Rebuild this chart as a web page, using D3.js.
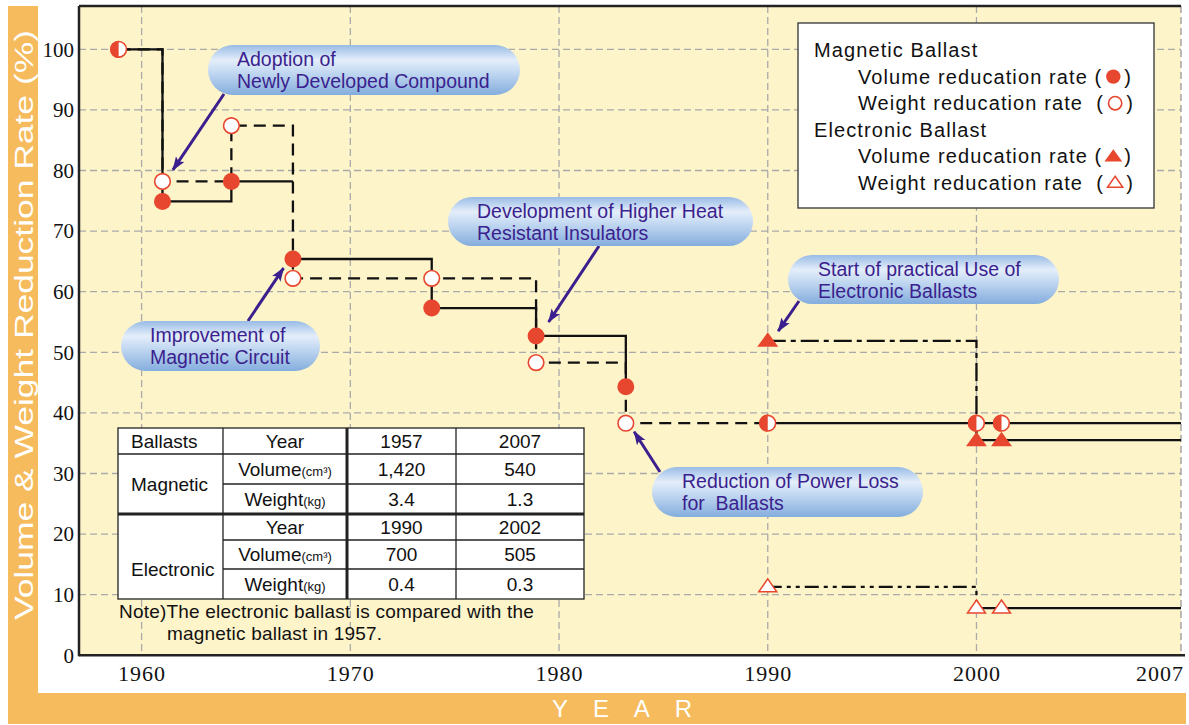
<!DOCTYPE html>
<html>
<head>
<meta charset="utf-8">
<script src="https://cdn.jsdelivr.net/npm/d3@7"></script>
<style>
body { margin: 0; background: #fff; }
svg { display: block; }
text { font-family: "Liberation Sans", Arial, Helvetica, sans-serif; }
</style>
</head>
<body>
<div id="chart"></div>
<script>
// values
var yTicks = [0, 10, 20, 30, 40, 50, 60, 70, 80, 90, 100];
var xTicks = [1960, 1970, 1980, 1990, 2000, 2007];

var magYears  = [1958.9, 1961, 1964.3, 1967.25, 1973.9, 1978.9, 1983.2];
var magVolume = [100, 74.9, 78.2, 65.4, 57.3, 52.7, 44.3];
var magWeight = [100, 78.2, 87.4, 62.2, 62.2, 48.3, 38.3];

// from 1990 the two magnetic rates are the same (half filled marks)
var bothYears  = [1990, 2000, 2001.2];
var bothValues = [38.3, 38.3, 38.3];

var eleYears  = [1990, 2000, 2001.2];
var eleVolume = [51.9, 35.5, 35.5];
var eleWeight = [11.3, 7.8, 7.8];

var tableRows = [
    ["Ballasts", "Year", "1957", "2007"],
    ["Magnetic", "Volume", "1,420", "540"],
    ["", "Weight", "3.4", "1.3"],
    ["", "Year", "1990", "2002"],
    ["Electronic", "Volume", "700", "505"],
    ["", "Weight", "0.4", "0.3"]
];
var units = {Volume: "(cm³)", Weight: "(kg)"};
var noteLines = ["Note)The electronic ballast is compared with the", "magnetic ballast in 1957."];

var legendRows = [
    {label: "Magnetic Ballast"},
    {label: "Volume reducation rate (", mark: "dot"},
    {label: "Weight reducation rate  (", mark: "ring"},
    {label: "Electronic Ballast"},
    {label: "Volume reducation rate (", mark: "tri"},
    {label: "Weight reducation rate  (", mark: "opentri"}
];

var callouts = [
    {lines: ["Adoption of", "Newly Developed Compound"], year: 1961.5, value: 80.1},
    {lines: ["Improvement of", "Magnetic Circuit"], year: 1966.8, value: 63.9},
    {lines: ["Development of Higher Heat", "Resistant Insulators"], year: 1979.5, value: 55.0},
    {lines: ["Start of practical Use of", "Electronic Ballasts"], year: 1990.5, value: 53.5},
    {lines: ["Reduction of Power Loss", "for  Ballasts"], year: 1983.6, value: 36.9}
];
// pill boxes and arrow tails, in pixels
var calloutBoxes = [
    {x: 208, y: 45, w: 312, h: 50, tx: 237, ax: 224, ay: 94},
    {x: 121, y: 321, w: 199, h: 50, tx: 150, ax: 248, ay: 321},
    {x: 448, y: 197, w: 305, h: 49, tx: 477, ax: 599, ay: 246},
    {x: 788, y: 255, w: 271, h: 49, tx: 818, ax: 799, ay: 301},
    {x: 652, y: 467, w: 271, h: 50, tx: 682, ax: 660, ay: 472}
];

var orange = "#F5BB5C",
    red = "#E8472F",
    ink = "#3b1f8e",
    serif = "'Liberation Serif', 'Times New Roman', serif";

var margin = {top: 6, left: 79},
    width = 1102,
    height = 649.3;

var svg = d3.select("#chart").append("svg")
    .attr("width", 1189)
    .attr("height", 725);

var defs = svg.append("defs");
var grad = defs.append("linearGradient").attr("id", "pill")
    .attr("x1", 0).attr("y1", 0).attr("x2", 0).attr("y2", 1);
grad.append("stop").attr("offset", "0%").attr("stop-color", "#98bbe5");
grad.append("stop").attr("offset", "30%").attr("stop-color", "#e4eefa");
grad.append("stop").attr("offset", "55%").attr("stop-color", "#c2d8f1");
grad.append("stop").attr("offset", "100%").attr("stop-color", "#84addd");

defs.append("marker").attr("id", "head")
    .attr("markerUnits", "userSpaceOnUse")
    .attr("viewBox", "0 -6 14 12")
    .attr("refX", 13).attr("refY", 0)
    .attr("markerWidth", 14).attr("markerHeight", 12)
    .attr("orient", "auto")
    .append("path").attr("d", "M0,-5L14,0L0,5L3,0Z").attr("fill", ink);

// orange frame
svg.append("rect").attr("x", 8).attr("y", 6).attr("width", 30).attr("height", 718).attr("fill", orange);
svg.append("rect").attr("x", 8).attr("y", 693).attr("width", 1178).attr("height", 31).attr("fill", orange);

svg.append("text")
    .attr("transform", "translate(33,325)rotate(-90)")
    .attr("text-anchor", "middle")
    .attr("textLength", 590)
    .attr("lengthAdjust", "spacingAndGlyphs")
    .attr("fill", "#fff")
    .style("font-size", "25px")
    .text("Volume & Weight Reduction Rate (%)");

svg.append("text")
    .attr("x", 552).attr("y", 717)
    .attr("textLength", 140)
    .attr("lengthAdjust", "spacing")
    .attr("fill", "#fff")
    .style("font-size", "24px")
    .text("YEAR");

var g = svg.append("g")
    .attr("transform", "translate(" + margin.left + "," + margin.top + ")");

var x = d3.scaleLinear().domain([1957, 2009.8]).range([0, width]),
    y = d3.scaleLinear().domain([0, 100]).range([height, 43.3]);

g.append("rect").attr("width", width).attr("height", height).attr("fill", "#FEF4CA");

// grid
g.selectAll(".hgrid")
    .data(yTicks.filter(function (d) { return d > 0; }))
    .enter().append("line")
    .attr("x1", 0).attr("x2", width)
    .attr("y1", function (d) { return y(d); })
    .attr("y2", function (d) { return y(d); })
    .attr("stroke", "#aaa").attr("stroke-width", 1.3).attr("stroke-dasharray", "7,4");

g.selectAll(".vgrid")
    .data(xTicks.slice(0, -1))
    .enter().append("line")
    .attr("x1", function (d) { return x(d); })
    .attr("x2", function (d) { return x(d); })
    .attr("y1", 0).attr("y2", height)
    .attr("stroke", "#aaa").attr("stroke-width", 1.3).attr("stroke-dasharray", "7,4");

g.append("line").attr("x1", width).attr("x2", width).attr("y1", 0).attr("y2", height)
    .attr("stroke", "#999").attr("stroke-width", 1.3).attr("stroke-dasharray", "7,4");
g.append("line").attr("x1", 0).attr("x2", width).attr("y1", 0).attr("y2", 0)
    .attr("stroke", "#222").attr("stroke-width", 2.5);

// axes
var yAxis = g.append("g")
    .call(d3.axisLeft(y).tickValues(yTicks).tickSize(0).tickPadding(5));
yAxis.select(".domain").remove();
yAxis.selectAll("text").style("font-family", serif).style("font-size", "21px").attr("fill", "#111");

var xAxis = g.append("g")
    .attr("transform", "translate(0," + height + ")")
    .call(d3.axisBottom(x).tickValues(xTicks).tickFormat(d3.format("d")).tickSize(0).tickPadding(10));
xAxis.select(".domain").remove();
xAxis.selectAll("text").style("font-family", serif).style("font-size", "22px")
    .style("letter-spacing", "1px").attr("fill", "#111");
// last label sits at the right end of the axis
xAxis.selectAll(".tick").filter(function (d) { return d === xTicks[xTicks.length - 1]; })
    .attr("transform", "translate(" + (width + 3) + ",0)")
    .select("text").attr("text-anchor", "end");

g.append("line").attr("x1", 0).attr("x2", 0).attr("y1", 0).attr("y2", height + 1)
    .attr("stroke", "#222").attr("stroke-width", 2.5);
g.append("line").attr("x1", 0).attr("x2", width + 4).attr("y1", height).attr("y2", height)
    .attr("stroke", "#222").attr("stroke-width", 2.5);

// table
var colX = [118, 223, 347, 456, 584],
    rowY = [428, 454, 484, 514, 540, 569, 599];
var tbl = svg.append("g").attr("fill", "#111").style("font-size", "19px");
tbl.append("rect").attr("x", colX[0]).attr("y", rowY[0])
    .attr("width", colX[4] - colX[0]).attr("height", rowY[6] - rowY[0])
    .attr("fill", "#fff").attr("stroke", "#222").attr("stroke-width", 1.3);
[1, 2, 3].forEach(function (c) {
    tbl.append("line").attr("x1", colX[c]).attr("x2", colX[c]).attr("y1", rowY[0]).attr("y2", rowY[6])
        .attr("stroke", "#222").attr("stroke-width", c === 2 ? 3 : 1.3);
});
[1, 2, 3, 4, 5].forEach(function (r) {
    var full = r === 1 || r === 3;
    tbl.append("line").attr("x1", full ? colX[0] : colX[1]).attr("x2", colX[4])
        .attr("y1", rowY[r]).attr("y2", rowY[r])
        .attr("stroke", "#222").attr("stroke-width", r === 3 ? 3 : 1.3);
});
tableRows.forEach(function (row, r) {
    row.forEach(function (cell, c) {
        if (!cell) return;
        var t = tbl.append("text").attr("dy", "0.36em");
        if (c === 0) {
            t.attr("x", 131).attr("y", r === 0 ? (rowY[0] + rowY[1]) / 2 : rowY[r + 1]).text(cell);
        } else {
            t.attr("x", (colX[c] + colX[c + 1]) / 2).attr("y", (rowY[r] + rowY[r + 1]) / 2)
                .attr("text-anchor", "middle");
            t.append("tspan").text(cell);
            if (units[cell]) t.append("tspan").style("font-size", "13px").text(units[cell]);
        }
    });
});
noteLines.forEach(function (line, i) {
    svg.append("text").attr("x", i === 0 ? 119 : 167).attr("y", 618 + i * 22)
        .attr("fill", "#111").style("font-size", "19px").style("letter-spacing", "0.2px").text(line);
});

// step lines
var stepLine = d3.line()
    .x(function (d) { return x(d[0]); })
    .y(function (d) { return y(d[1]); })
    .curve(d3.curveStepAfter);
function pts(xs, ys) { return xs.map(function (d, i) { return [d, ys[i]]; }); }
var xEnd = x.domain()[1];

function drawLine(data, dash) {
    g.append("path").datum(data).attr("d", stepLine)
        .attr("fill", "none").attr("stroke", "#111").attr("stroke-width", 2.3)
        .attr("stroke-dasharray", dash);
}
drawLine(pts(magYears, magWeight).concat([[bothYears[0], bothValues[0]]]), "12,7");
// volume drop in 1967 shares the dashed weight drop, so the solid line breaks there
drawLine(pts(magYears.slice(0, 3), magVolume.slice(0, 3)).concat([[magYears[3], magVolume[2]]]), null);
drawLine(pts(magYears.slice(3), magVolume.slice(3)), null);
drawLine(pts(bothYears, bothValues).concat([[xEnd, bothValues[bothValues.length - 1]]]), null);
drawLine(pts(eleYears.slice(0, 2), eleVolume.slice(0, 2)), "18,5,5,5");
drawLine(pts(eleYears.slice(1), eleVolume.slice(1)).concat([[xEnd, eleVolume[eleVolume.length - 1]]]), null);
drawLine(pts(eleYears.slice(0, 2), eleWeight.slice(0, 2)), "14,5,4,5,4,5");
drawLine(pts(eleYears.slice(1), eleWeight.slice(1)).concat([[xEnd, eleWeight[eleWeight.length - 1]]]), null);

// marks
function triPath(w, top, bottom) {
    return "M0," + (-top) + "L" + (w / 2) + "," + bottom + "L" + (-w / 2) + "," + bottom + "Z";
}
function mark(sel, type, cx, cy, s) {
    s = s || 1;
    var m = sel.append("g").attr("transform", "translate(" + cx + "," + cy + ")");
    if (type === "dot") {
        m.append("circle").attr("r", 8.5 * s).attr("fill", red);
    } else if (type === "ring") {
        m.append("circle").attr("r", 7.8 * s).attr("fill", "#fff").attr("stroke", red).attr("stroke-width", 1.6);
    } else if (type === "half") {
        m.append("circle").attr("r", 7.8).attr("fill", "#fff").attr("stroke", red).attr("stroke-width", 1.6);
        m.append("path").attr("d", "M0,-8.6A8.6,8.6 0 0 0 0,8.6Z").attr("fill", red);
    } else if (type === "tri") {
        m.append("path").attr("d", triPath(21 * s, 8.5 * s, 6 * s)).attr("fill", red);
    } else {
        m.append("path").attr("d", triPath(18 * s, 8 * s, 5 * s)).attr("fill", "#fff")
            .attr("stroke", red).attr("stroke-width", 1.5);
    }
}
mark(g, "half", x(magYears[0]), y(magVolume[0]));
magYears.slice(1).forEach(function (d, i) {
    mark(g, "ring", x(d), y(magWeight[i + 1]));
    mark(g, "dot", x(d), y(magVolume[i + 1]));
});
bothYears.forEach(function (d, i) { mark(g, "half", x(d), y(bothValues[i])); });
eleYears.forEach(function (d, i) {
    mark(g, "tri", x(d), y(eleVolume[i]));
    mark(g, "opentri", x(d), y(eleWeight[i]));
});

// callouts
callouts.forEach(function (c, i) {
    var b = calloutBoxes[i];
    svg.append("line")
        .attr("x1", b.ax).attr("y1", b.ay)
        .attr("x2", x(c.year) + margin.left).attr("y2", y(c.value) + margin.top)
        .attr("stroke", ink).attr("stroke-width", 3)
        .attr("marker-end", "url(#head)");
    svg.append("rect").attr("x", b.x).attr("y", b.y).attr("width", b.w).attr("height", b.h)
        .attr("rx", b.h / 2).attr("fill", "url(#pill)");
    c.lines.forEach(function (line, j) {
        svg.append("text").attr("x", b.tx).attr("y", b.y + 21 + j * 21.5)
            .attr("fill", ink).style("font-size", "19.5px").style("white-space", "pre")
            .text(line);
    });
});

// legend
var leg = svg.append("g");
leg.append("rect").attr("x", 798).attr("y", 23).attr("width", 356).attr("height", 185)
    .attr("fill", "#fff").attr("stroke", "#333").attr("stroke-width", 1.3);
legendRows.forEach(function (row, i) {
    var t = leg.append("text")
        .attr("x", row.mark ? 858 : 814)
        .attr("y", 57 + i * 26.6)
        .attr("fill", "#111")
        .style("font-size", "20px").style("letter-spacing", "1.1px").style("white-space", "pre")
        .text(row.label);
    if (row.mark) {
        var end = 858 + t.node().getComputedTextLength();
        mark(leg, row.mark, end + 11, 57 + i * 26.6 - 7, 0.85);
        leg.append("text").attr("x", end + 22).attr("y", 57 + i * 26.6)
            .attr("fill", "#111").style("font-size", "20px").text(")");
    }
});
</script>
</body>
</html>
